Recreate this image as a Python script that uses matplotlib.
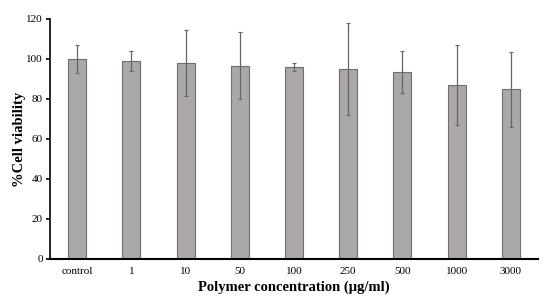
import numpy as np
import matplotlib.pyplot as plt

# Data
labels = ['control', '1', '10', '50', '100', '250', '500', '1000', '3000']
viability = [100, 99.2, 98, 96.7, 96, 95.2, 93.5, 87, 84.8]
err = [7, 5, 16.5, 16.8, 1.8, 23, 10.3, 20, 18.8]

plt.rcParams['font.family'] = ['Liberation Serif', 'DejaVu Serif']

fig = plt.figure(figsize=(5.5, 3.03), dpi=100)
ax = fig.add_axes([50 / 550, 1 - 259 / 303, 488 / 550, 240 / 303])

x = np.arange(len(labels))
ax.bar(x, viability, width=0.33, color='#aca8a8', edgecolor='#6e6e6e', linewidth=0.8,
       yerr=err, error_kw=dict(ecolor='#666666', elinewidth=0.9, capsize=1.5, capthick=0.8))

ax.set_xlim(-0.5, len(labels) - 0.5)
ax.set_ylim(0, 120)
ax.set_yticks(range(0, 121, 20))
ax.set_xticks(x)
ax.set_xticklabels(labels)

for s in ['top', 'right']:
    ax.spines[s].set_visible(False)
ax.spines['left'].set_linewidth(1.2)
ax.spines['bottom'].set_linewidth(1.5)
ax.tick_params(axis='y', direction='out', length=3, width=1.2, labelsize=8, pad=2)
ax.tick_params(axis='x', length=0, labelsize=8, pad=6)

ax.set_ylabel('%Cell viability', fontsize=10.5, fontweight='bold', labelpad=0)
ax.set_xlabel('Polymer concentration (μg/ml)', fontsize=10.5, fontweight='bold', labelpad=3)

fig.savefig('out.png', dpi=100)
